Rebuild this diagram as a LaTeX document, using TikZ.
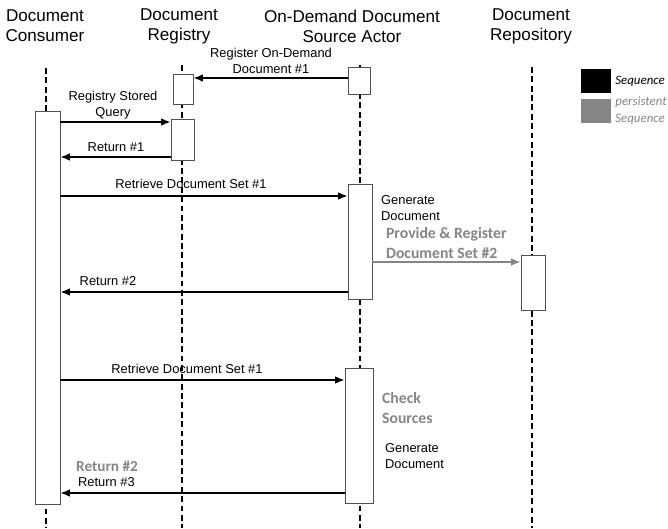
\documentclass[tikz,border=0pt]{standalone}
\usepackage{fontspec}
\setmainfont{Liberation Sans}
\newfontfamily\calfont{Carlito}
\usepackage{tikz}
\usetikzlibrary{arrows.meta,positioning,fit,calc}

\definecolor{persgray}{HTML}{858585}
\definecolor{boxline}{HTML}{505050}

\begin{document}
\begin{tikzpicture}[
    x=0.03cm, y=-0.03cm,
    actor/.style={align=center, font=\fontsize{14.6}{17}\selectfont},
    lifeline/.style={dashed, dash pattern=on 5pt off 3pt, line width=1.3pt, black},
    actbox/.style={rectangle, draw=boxline, fill=white, line width=0.8pt, inner sep=0pt},
    msg/.style={-{Latex[length=8pt,width=6.5pt]}, line width=1.3pt, black},
    pmsg/.style={-{Latex[length=8pt,width=6.5pt]}, line width=1.3pt, persgray},
    msglabel/.style={align=center, font=\fontsize{11}{13.7}\selectfont},
    note/.style={align=left, anchor=west, font=\fontsize{11}{13.7}\selectfont},
    pnote/.style={align=left, anchor=west, text=persgray, font=\calfont\bfseries\fontsize{13.4}{17}\selectfont},
    legsq/.style={rectangle, inner sep=0pt, minimum width=0.9cm, minimum height=0.72cm}
]
\useasboundingbox (0,0) rectangle (668,528);

% Acteurs
\node[actor] (consumer) at (45,26) {Document\\Consumer};
\node[actor] (registry) at (179,26) {Document\\Registry};
\node[actor] (source) at (352,26) {On-Demand Document\\Source Actor};
\node[actor] (repository) at (531,26) {Document\\Repository};

% Lignes de vie
\draw[lifeline] (46,68) -- (46,528);
\draw[lifeline] (182,65) -- (182,528);
\draw[lifeline] (360,65) -- (360,528);
\draw[lifeline] (532,67) -- (532,528);

% Activations
\node[actbox, fit={(35,111) (60,504)}] (consBox) {};
\node[actbox, fit={(173,74) (193,104)}] (regA) {};
\node[actbox, fit={(171,119) (194,160)}] (regB) {};
\node[actbox, fit={(348,67) (370,94)}] (srcA) {};
\node[actbox, fit={(348,184) (372,299)}] (srcB) {};
\node[actbox, fit={(521,255) (545,310)}] (repBox) {};
\node[actbox, fit={(345,368) (373,503)}] (srcC) {};

% Messages
\draw[msg] (srcA.west |- 0,78) -- (regA.east |- 0,78);
\node[msglabel] at (271,61) {Register On-Demand\\Document \#1};

\draw[msg] (consBox.east |- 0,122) -- (regB.west |- 0,122);
\node[msglabel] at (113,105) {Registry Stored\\Query};

\draw[msg] (regB.west |- 0,157) -- (consBox.east |- 0,157);
\node[msglabel] at (116,147) {Return \#1};

\draw[msg] (consBox.east |- 0,196) -- (srcB.west |- 0,196);
\node[msglabel] at (191,184) {Retrieve Document Set \#1};

\node[note] at (377,208) {Generate\\Document};

\draw[pmsg] (srcB.east |- 0,262) -- (repBox.west |- 0,262);
\node[pnote] at (382,243) {Provide \& Register\\Document Set \#2};

\draw[msg] (srcB.west |- 0,292) -- (consBox.east |- 0,292);
\node[msglabel] at (108,281) {Return \#2};

\draw[msg] (consBox.east |- 0,380) -- (srcC.west |- 0,380);
\node[msglabel] at (187,369) {Retrieve Document Set \#1};

\node[pnote] at (378,408) {Check\\Sources};
\node[note] at (381,456) {Generate\\Document};

\draw[msg] (srcC.west |- 0,493) -- (consBox.east |- 0,493);
\node[pnote, font=\calfont\bfseries\fontsize{13}{15}\selectfont] at (72,466) {Return \#2};
\node[note] at (74,482) {Return \#3};

% Legende
\node[legsq, fill=black] (legSeq) at (596,81) {};
\node[legsq, fill=persgray] (legPers) at (596,110.5) {};
\node[anchor=west, font=\calfont\itshape\fontsize{11}{13}\selectfont] at (legSeq.east) {Sequence};
\node[anchor=west, align=left, text=persgray, font=\calfont\itshape\fontsize{11}{14}\selectfont] at (legPers.east) {persistent\\Sequence};

\end{tikzpicture}
\end{document}
